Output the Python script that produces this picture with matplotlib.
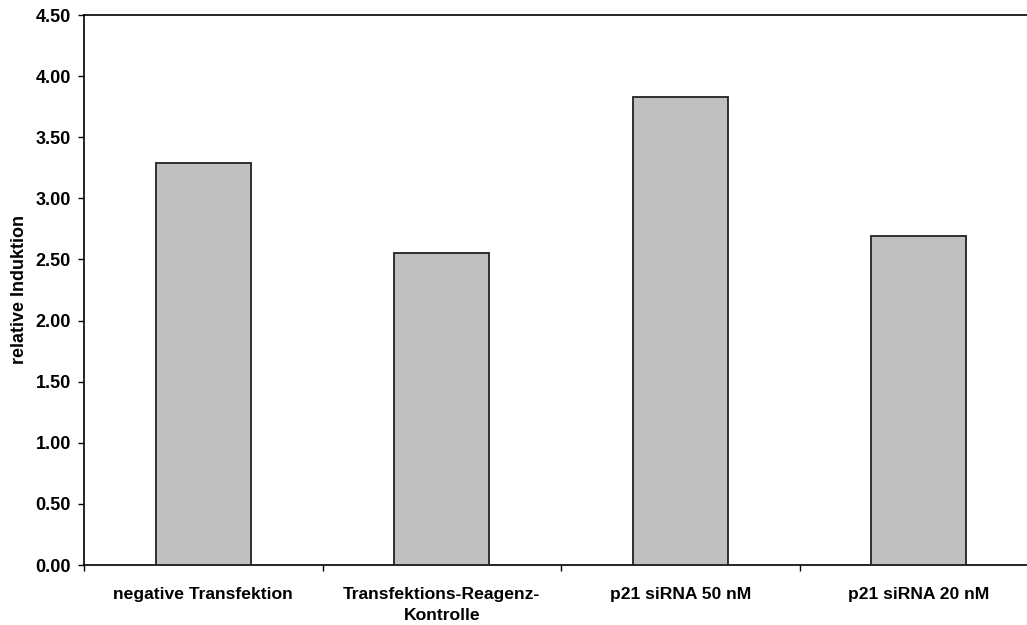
import matplotlib
matplotlib.use("Agg")
import matplotlib.pyplot as plt
import numpy as np

categories = ["negative Transfektion", "Transfektions-Reagenz-\nKontrolle",
              "p21 siRNA 50 nM", "p21 siRNA 20 nM"]
values = [3.29, 2.55, 3.83, 2.69]
y_ticks = [0.0, 0.5, 1.0, 1.5, 2.0, 2.5, 3.0, 3.5, 4.0, 4.5]

plt.rcParams["font.family"] = ["Liberation Sans", "DejaVu Sans"]
plt.rcParams["font.weight"] = "bold"

W, H = 1027, 625
fig = plt.figure(figsize=(W / 100, H / 100), dpi=100)
left, right, top, bottom = 84, 1038, 15, 565
ax = fig.add_axes([left / W, 1 - bottom / H, (right - left) / W, (bottom - top) / H])

x = np.arange(len(categories))
ax.bar(x, values, width=0.4, color="#c0c0c0", edgecolor="#222222", linewidth=1.3, zorder=3)

ax.set_xlim(-0.5, len(categories) - 0.5)
ax.set_ylim(0, 4.5)
ax.set_yticks(y_ticks)
ax.set_yticklabels([f"{v:.2f}" for v in y_ticks], fontsize=13, fontweight="bold")

# category labels centred, ticks on category boundaries
ax.set_xticks(x)
ax.set_xticklabels(categories, fontsize=12.6, fontweight="bold", linespacing=1.5)
ax.tick_params(axis="x", which="major", length=0, pad=16)
ax.set_xticks(np.arange(-0.5, len(categories) - 0.4, 1.0), minor=True)
ax.tick_params(axis="x", which="minor", length=4, width=1, direction="out")
ax.tick_params(axis="y", length=4, width=1, direction="out", pad=5.5)

ax.set_ylabel("relative Induktion", fontsize=13, fontweight="bold", labelpad=5)

for side in ["left", "bottom", "top"]:
    ax.spines[side].set_color("black")
    ax.spines[side].set_linewidth(1.2)
ax.spines["right"].set_visible(False)

fig.savefig("out.png", dpi=100)
